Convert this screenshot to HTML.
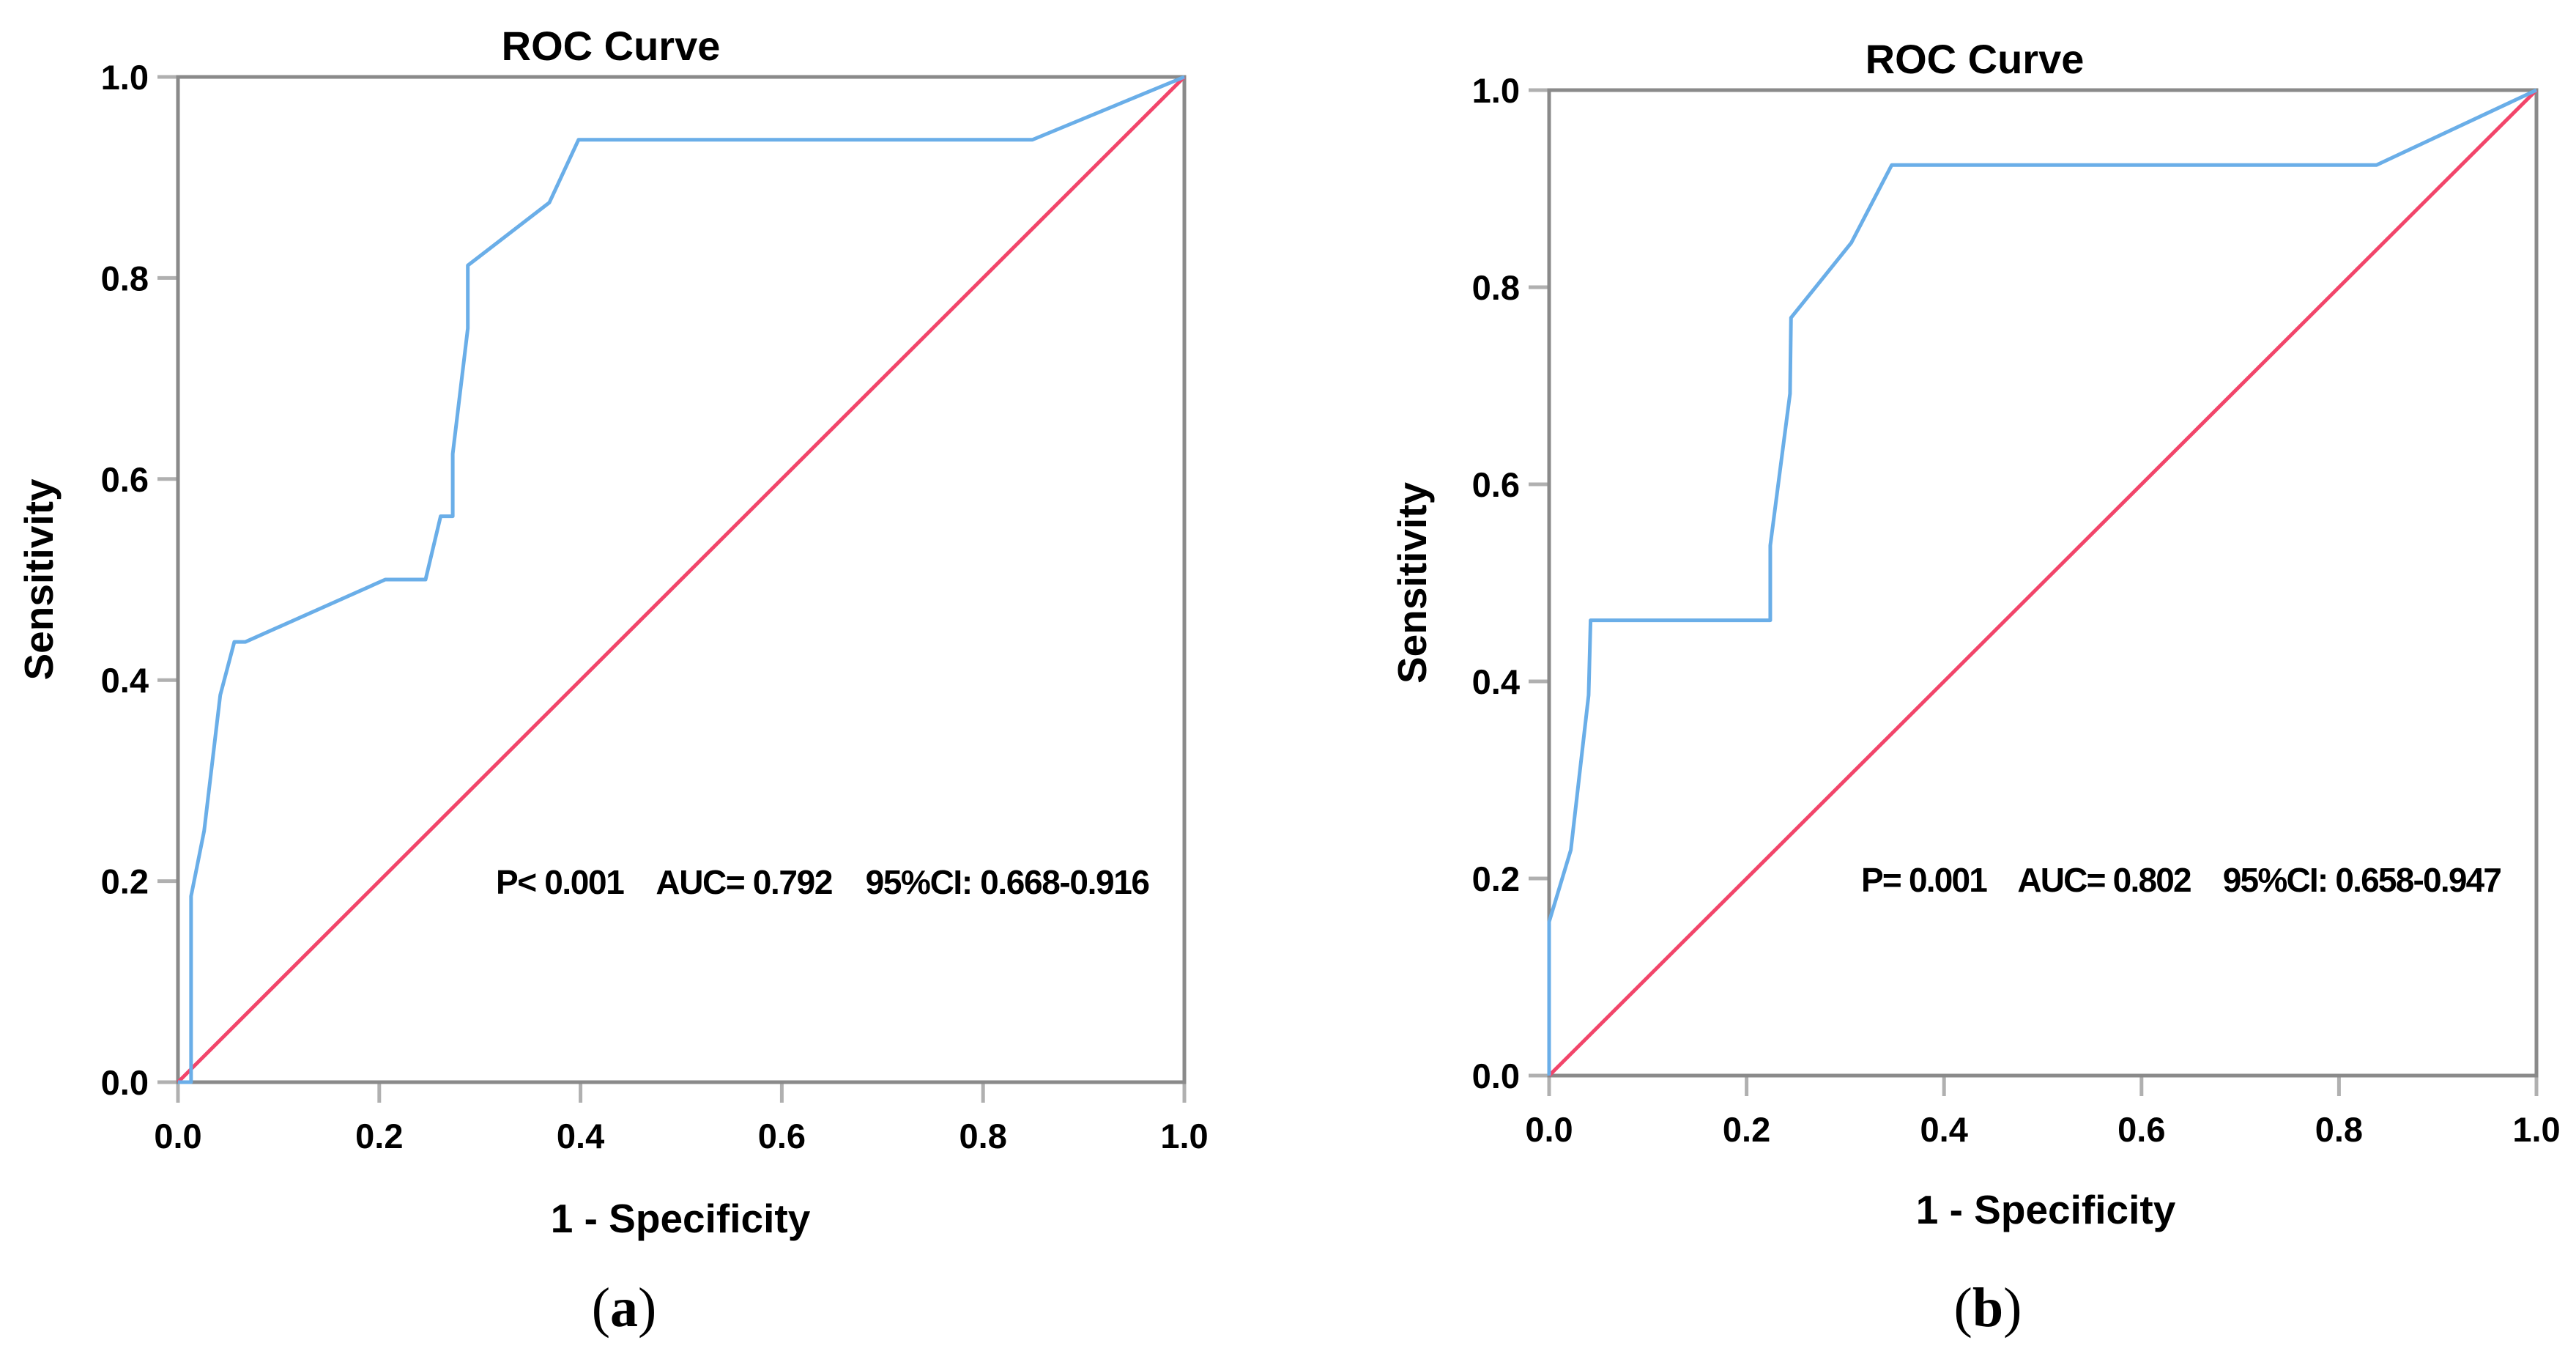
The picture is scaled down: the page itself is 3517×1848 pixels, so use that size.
<!DOCTYPE html>
<html><head><meta charset="utf-8"><style>
html,body{margin:0;padding:0;background:#fff;width:3517px;height:1848px;overflow:hidden}
svg{display:block}
text{font-family:"Liberation Sans",sans-serif;font-weight:bold;fill:#000}
.pre{white-space:pre}
</style></head><body>
<svg id="s" width="3517" height="1848" viewBox="0 0 3517 1848"></svg>
<script>
const tickValues = [0, 0.2, 0.4, 0.6, 0.8, 1.0];
const tickLabels = ["0.0", "0.2", "0.4", "0.6", "0.8", "1.0"];
const rocAx = [0, 0.013, 0.013, 0.026, 0.042, 0.056, 0.067, 0.206, 0.246, 0.261, 0.273, 0.273, 0.288, 0.288, 0.369, 0.398, 0.849, 1];
const rocAy = [0, 0, 0.185, 0.25, 0.385, 0.438, 0.438, 0.5, 0.5, 0.563, 0.563, 0.625, 0.75, 0.8125, 0.875, 0.9375, 0.9375, 1];
const rocBx = [0, 0, 0.022, 0.04, 0.042, 0.224, 0.224, 0.244, 0.245, 0.306, 0.347, 0.838, 1];
const rocBy = [0, 0.156, 0.229, 0.386, 0.462, 0.462, 0.538, 0.692, 0.769, 0.845, 0.924, 0.924, 1];
const refX = [0, 1];
const refY = [0, 1];
const NS = "http://www.w3.org/2000/svg";
const svg = document.getElementById("s");
function mk(tag, attrs, parent) {
  const e = document.createElementNS(NS, tag);
  for (const k in attrs) e.setAttribute(k, attrs[k]);
  (parent || svg).appendChild(e);
  return e;
}
function panel(cfg) {
  const g = mk("g", {});
  
  
  const sx = v => cfg.L + v * (cfg.R - cfg.L);
  const sy = v => cfg.B - v * (cfg.B - cfg.T);
  const t = mk("text", {x: cfg.titleX, y: cfg.titleY, "font-size": 56, "text-anchor": "middle"}, g);
  t.textContent = "ROC Curve";
  
  
  tickValues.forEach((v, i) => {
    const ty = mk("line", {x1: cfg.L - 28, x2: cfg.L, y1: sy(v), y2: sy(v), stroke: "#b0b0b0", "stroke-width": 5}, g);
    
    
    const tx = mk("line", {x1: sx(v), x2: sx(v), y1: cfg.B, y2: cfg.B + 28, stroke: "#b0b0b0", "stroke-width": 5}, g);
    
    
    const ly = mk("text", {x: cfg.L - 40, y: sy(v) + 17, "font-size": 47, "text-anchor": "end"}, g);
    ly.textContent = tickLabels[i];
    
    
    const lx = mk("text", {x: sx(v), y: cfg.B + 90, "font-size": 47, "text-anchor": "middle"}, g);
    lx.textContent = tickLabels[i];
    
    
  });
  const fr = mk("rect", {x: cfg.L, y: cfg.T, width: cfg.R - cfg.L, height: cfg.B - cfg.T, fill: "none", stroke: "#8a8a8a", "stroke-width": 5}, g);
  
  
  const ref = mk("polyline", {points: refX.map((x, i) => sx(x) + "," + sy(refY[i])).join(" "), fill: "none", stroke: "#f2456a", "stroke-width": 5}, g);
  
  
  const roc = mk("polyline", {points: cfg.xs.map((x, i) => sx(x) + "," + sy(cfg.ys[i])).join(" "), fill: "none", stroke: "#6aaee8", "stroke-width": 5, "stroke-linejoin": "round"}, g);
  
  
  const an = mk("text", {x: cfg.annX, y: cfg.annY, "font-size": 46, "class": "pre", textLength: cfg.annW, lengthAdjust: "spacing"}, g);
  an.textContent = cfg.ann;
  
  
  const xl = mk("text", {x: cfg.xlX, y: cfg.xlY, "font-size": 55, "text-anchor": "middle"}, g);
  xl.textContent = "1 - Specificity";
  
  
  const yl = mk("text", {x: 0, y: 0, "font-size": 55, "text-anchor": "middle", transform: "translate(" + cfg.ylX + "," + ((cfg.T + cfg.B) / 2) + ") rotate(-90)"}, g);
  yl.textContent = "Sensitivity";
  
  
  const cap = mk("text", {x: cfg.capX, y: 1810, "font-size": 76, "text-anchor": "middle", style: "font-family:'Liberation Serif',serif;font-weight:normal"}, g);
  cap.innerHTML = "(<tspan font-weight='bold'>" + cfg.cap + "</tspan>)";
  
  
}
panel({name: "panel-a", L: 243, R: 1617, T: 105, B: 1477, xs: rocAx, ys: rocAy,
  titleX: 834, titleY: 82, annX: 677, annY: 1220, annW: 893, ann: "P< 0.001    AUC= 0.792    95%CI: 0.668-0.916",
  xlX: 929, xlY: 1682, ylX: 72, capX: 852, cap: "a"});
panel({name: "panel-b", L: 2115, R: 3463, T: 123, B: 1468, xs: rocBx, ys: rocBy,
  titleX: 2696, titleY: 100, annX: 2541, annY: 1217, annW: 875, ann: "P= 0.001    AUC= 0.802    95%CI: 0.658-0.947",
  xlX: 2793, xlY: 1670, ylX: 1947, capX: 2714, cap: "b"});
</script>
</body></html>
